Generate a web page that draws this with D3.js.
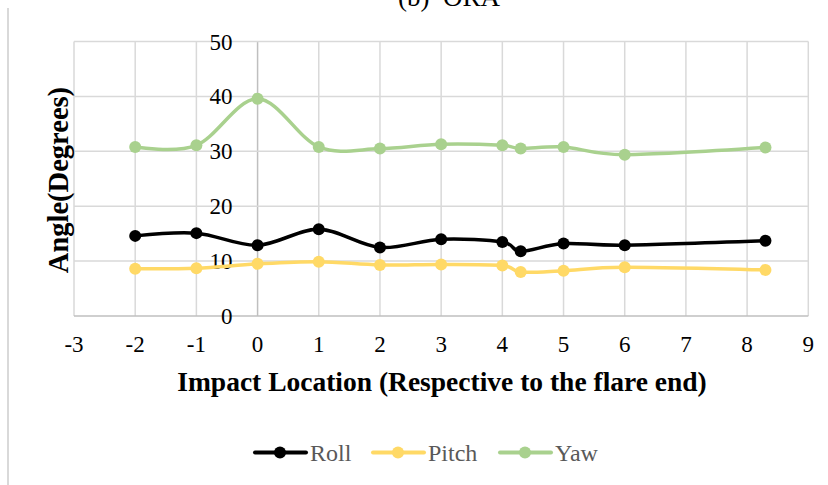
<!DOCTYPE html>
<html>
<head>
<meta charset="utf-8">
<script src="https://cdn.jsdelivr.net/npm/d3@7"></script>
<style>
  html, body { margin: 0; padding: 0; background: #fff; }
  svg { display: block; }
</style>
</head>
<body>
<svg id="chart" width="828" height="485"></svg>
<script>
// Impact locations (relative to the flare end) and measured angles
const locations = [-2, -1, 0, 1, 2, 3, 4, 4.3, 5, 6, 8.3];
const roll  = [14.6, 15.1, 12.9, 15.8, 12.5, 14.0, 13.5, 11.8, 13.2, 12.9, 13.7];
const pitch = [8.6, 8.7, 9.5, 9.9, 9.3, 9.4, 9.2, 8.0, 8.25, 8.9, 8.4];
const yaw   = [30.8, 31.1, 39.6, 30.8, 30.5, 31.3, 31.1, 30.5, 30.8, 29.4, 30.7];

const xTicks = [-3, -2, -1, 0, 1, 2, 3, 4, 5, 6, 7, 8, 9];
const yTicks = [0, 10, 20, 30, 40, 50];

const seriesNames  = ["Roll", "Pitch", "Yaw"];
const seriesValues = [roll, pitch, yaw];
const seriesColors = ["#000000", "#FFD966", "#A9D18E"];

const svg = d3.select("#chart");
const serif = "'Liberation Serif', 'Times New Roman', serif";

const x = d3.scaleLinear().domain([-3, 9]).range([74, 808.3]);
const y = d3.scaleLinear().domain([0, 50]).range([316, 41.6]);

// frame line on the left edge
svg.append("line")
  .attr("x1", 8).attr("x2", 8).attr("y1", 8).attr("y2", 485)
  .attr("stroke", "#d9d9d9").attr("stroke-width", 2);

// title (partly above the visible area)
svg.append("text")
  .attr("x", 398).attr("y", 6)
  .attr("font-family", serif).attr("font-size", 27)
  .attr("fill", "#000")
  .style("white-space", "pre")
  .text("(b)  ORA");

// gridlines
const grid = svg.append("g");
grid.selectAll("line.v").data(xTicks).join("line")
  .attr("class", "v")
  .attr("x1", d => x(d)).attr("x2", d => x(d))
  .attr("y1", y(50)).attr("y2", y(0))
  .attr("stroke", d => d === 0 ? "#bfbfbf" : "#d9d9d9")
  .attr("stroke-width", 1.5);
grid.selectAll("line.h").data(yTicks).join("line")
  .attr("class", "h")
  .attr("x1", x(-3)).attr("x2", x(9))
  .attr("y1", d => y(d)).attr("y2", d => y(d))
  .attr("stroke", d => d === 0 ? "#bfbfbf" : "#d9d9d9")
  .attr("stroke-width", 1.5);

// y tick labels sit next to the vertical axis at x = 0
svg.append("g").selectAll("text").data(yTicks).join("text")
  .attr("x", x(0) - 25).attr("y", d => y(d) + 8)
  .attr("text-anchor", "end")
  .attr("font-family", serif).attr("font-size", 23)
  .attr("fill", "#000")
  .text(d => d);

// x tick labels
svg.append("g").selectAll("text").data(xTicks).join("text")
  .attr("x", d => x(d)).attr("y", 352)
  .attr("text-anchor", "middle")
  .attr("font-family", serif).attr("font-size", 23)
  .attr("fill", "#000")
  .text(d => d);

// axis titles
svg.append("text")
  .attr("x", 442).attr("y", 391)
  .attr("text-anchor", "middle")
  .attr("font-family", serif).attr("font-size", 27.5).attr("font-weight", "bold")
  .attr("fill", "#000")
  .text("Impact Location (Respective to the flare end)");

svg.append("text")
  .attr("transform", "translate(68,180) rotate(-90)")
  .attr("text-anchor", "middle")
  .attr("font-family", serif).attr("font-size", 28.5).attr("font-weight", "bold")
  .attr("fill", "#000")
  .text("Angle(Degrees)");

// smoothed series lines with markers
const line = d3.line()
  .x((d, i) => x(locations[i]))
  .y(d => y(d))
  .curve(d3.curveCardinal.tension(0));

const plot = svg.append("g");
seriesValues.forEach((vals, s) => {
  const g = plot.append("g");
  g.append("path")
    .datum(vals)
    .attr("d", line)
    .attr("fill", "none")
    .attr("stroke", seriesColors[s])
    .attr("stroke-width", 3.5)
    .attr("stroke-linejoin", "round");
  g.selectAll("circle").data(vals).join("circle")
    .attr("cx", (d, i) => x(locations[i]))
    .attr("cy", d => y(d))
    .attr("r", 6)
    .attr("fill", seriesColors[s]);
});

// legend
const legendX = [255, 373, 500];
const legend = svg.append("g");
seriesNames.forEach((name, s) => {
  const lx = legendX[s], ly = 452.5;
  legend.append("line")
    .attr("x1", lx).attr("x2", lx + 51).attr("y1", ly).attr("y2", ly)
    .attr("stroke", seriesColors[s]).attr("stroke-width", 4)
    .attr("stroke-linecap", "round");
  legend.append("circle")
    .attr("cx", lx + 25).attr("cy", ly).attr("r", 6)
    .attr("fill", seriesColors[s]);
  legend.append("text")
    .attr("x", lx + 55).attr("y", ly + 8)
    .attr("font-family", serif).attr("font-size", 24)
    .attr("fill", "#595959")
    .text(name);
});
</script>
</body>
</html>
